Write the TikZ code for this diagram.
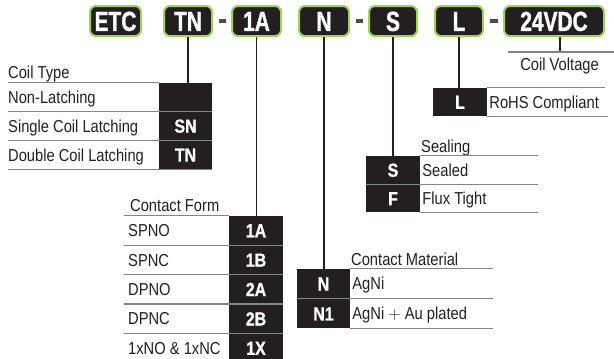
\documentclass[tikz,border=0pt]{standalone}
\usepackage{fontspec}
\setmainfont{Liberation Sans}
\newfontfamily\narrowfont[FakeStretch=0.85]{Liberation Sans}
\newfontfamily\codefont[FakeStretch=0.76,BoldFeatures={FakeBold=1.2}]{Liberation Sans}
\newfontfamily\keyfont[FakeStretch=0.84,BoldFeatures={FakeBold=1}]{Liberation Sans}
\usetikzlibrary{positioning}
\definecolor{ink}{HTML}{231F20}
\definecolor{trim}{HTML}{A3CF5B}
\definecolor{rulegray}{HTML}{858585}
\definecolor{dashgray}{HTML}{4D4D4D}
\tikzset{
  codebox/.style={draw=trim,line width=2pt,fill=ink,rounded corners=6pt,text=white,
    font=\codefont\bfseries\fontsize{27.5}{27.5}\selectfont,minimum height=30pt,
    inner sep=0pt,text height=19.8pt,text depth=0pt},
  keybox/.style={fill=ink,text=white,font=\keyfont\bfseries\fontsize{19}{19}\selectfont,
    minimum width=53pt,minimum height=28.5pt,inner sep=0pt,text height=13.6pt,text depth=0pt},
  rowlabel/.style={anchor=west,inner sep=0pt,text=ink,
    font=\narrowfont\fontsize{17.3}{17.3}\selectfont,text height=12.4pt,text depth=0pt},
  heading/.style={anchor=base west,inner sep=0pt,text=ink,font=\narrowfont\fontsize{17.3}{17.3}\selectfont},
  tablerule/.style={draw=rulegray,line width=1.3pt},
  leader/.style={draw=ink,line width=1.3pt},
  hyphen/.style={draw=dashgray,line width=3.5pt}
}
\begin{document}
\begin{tikzpicture}[x=1pt,y=-1pt]
\useasboundingbox (0,0) rectangle (614,359);
% part number
\node[codebox,minimum width=51pt] (etc) at (115.5,21) {ETC};
\node[codebox,minimum width=48pt] (tn) at (188,21) {TN};
\node[codebox,minimum width=49pt] (form) at (256.5,21) {1A};
\node[codebox,minimum width=50pt] (mat) at (324,21) {N};
\node[codebox,minimum width=48pt] (seal) at (393,21) {S};
\node[codebox,minimum width=48pt] (rohs) at (459,21) {L};
\node[codebox,minimum width=100pt] (volt) at (554,21) {24VDC};
\draw[hyphen] ([xshift=6pt]tn.east) -- ([xshift=-5.5pt]form.west);
\draw[hyphen] ([xshift=6pt]mat.east) -- ([xshift=-5.5pt]seal.west);
\draw[hyphen] ([xshift=6pt]rohs.east) -- ([xshift=-5.5pt]volt.west);

% coil type
\node[keybox] (nl) at (185.5,97) {};
\node[keybox,below=0pt of nl] (sn) {SN};
\node[keybox,below=0pt of sn] (dn) {TN};
\node[heading] (coilhead) at (8,78.5) {Coil Type};
\node[rowlabel] (nltext) at (nl.west -| 8,0) {Non-Latching};
\node[rowlabel] (sntext) at (sn.west -| 8,0) {Single Coil Latching};
\node[rowlabel] (dntext) at (dn.west -| 8,0) {Double Coil Latching};
\draw[tablerule] (nl.north west -| 8,0) -- (nl.north west);
\draw[tablerule] (sn.north west -| 8,0) -- (sn.north east);
\draw[tablerule] (dn.north west -| 8,0) -- (dn.north east);
\draw[tablerule] (dn.south west -| 8,0) -- (dn.south east);
\draw[leader] (tn.south) -- (tn.south |- nl.north);

% contact form
\node[keybox,minimum width=54pt,minimum height=29pt] (fa1) at (256,230.5) {1A};
\node[keybox,minimum width=54pt,minimum height=29pt,below=0pt of fa1] (fb1) {1B};
\node[keybox,minimum width=54pt,minimum height=29pt,below=0pt of fb1] (fa2) {2A};
\node[keybox,minimum width=54pt,minimum height=29pt,below=0pt of fa2] (fb2) {2B};
\node[keybox,minimum width=54pt,minimum height=29pt,below=0pt of fb2] (fx) {1X};
\node[heading] (formhead) at (130,211.5) {Contact Form};
\node[rowlabel] at (fa1.west -| 128,0) {SPNO};
\node[rowlabel] at (fb1.west -| 128,0) {SPNC};
\node[rowlabel] at (fa2.west -| 128,0) {DPNO};
\node[rowlabel] at (fb2.west -| 128,0) {DPNC};
\node[rowlabel] at (fx.west -| 128,0) {1xNO \& 1xNC};
\draw[tablerule] (fa1.north west -| 124,0) -- (fa1.north west);
\draw[tablerule] (fb1.north west -| 124,0) -- (fb1.north east);
\draw[tablerule] (fa2.north west -| 124,0) -- (fa2.north east);
\draw[tablerule] (fb2.north west -| 124,0) -- (fb2.north east);
\draw[tablerule] (fx.north west -| 124,0) -- (fx.north east);
\draw[leader] (form.south) -- (form.south |- fa1.north);

% contact material
\node[keybox,minimum height=29.5pt] (mn) at (323.5,283.75) {N};
\node[keybox,minimum height=29.5pt,below=0pt of mn] (mn1) {N1};
\node[heading] (mathead) at (351,265) {Contact Material};
\node[rowlabel] at (mn.east) [xshift=2pt] {AgNi};
\node[rowlabel] at (mn1.east) [xshift=2pt] {AgNi $+$ Au plated};
\draw[tablerule] (mn.north east) -- (mn.north east -| 493,0);
\draw[tablerule] (mn.south west) -- (mn.south west -| 493,0);
\draw[tablerule] (mn1.south east) -- (mn1.south east -| 493,0);
\draw[leader] (mat.south) -- (mat.south |- mn.north);

% sealing
\node[keybox,minimum width=54pt,minimum height=28pt] (ss) at (393,170) {S};
\node[keybox,minimum width=54pt,minimum height=28pt,below=0pt of ss] (sf) {F};
\node[heading] (sealhead) at (421,152) {Sealing};
\node[rowlabel] at (ss.east) [xshift=2pt] {Sealed};
\node[rowlabel] at (sf.east) [xshift=2pt] {Flux Tight};
\draw[tablerule] (ss.north east) -- (ss.north east -| 538,0);
\draw[tablerule] (ss.south west) -- (ss.south west -| 538,0);
\draw[tablerule] (sf.south east) -- (sf.south east -| 538,0);
\draw[leader] (seal.south) -- (seal.south |- ss.north);

% rohs
\node[keybox,minimum width=54pt,minimum height=28pt] (rl) at (460,102) {L};
\node[rowlabel] at (rl.east) [xshift=2pt] {RoHS Compliant};
\draw[tablerule] (rl.north east) -- (rl.north east -| 605,0);
\draw[tablerule] (rl.south east) -- (rl.south east -| 608,0);
\draw[leader] (rohs.south) -- (rohs.south |- rl.north);

% coil voltage
\coordinate (vtap) at (560,52);
\draw[leader] ([xshift=6pt]volt.south) -- (vtap);
\draw[tablerule] (vtap -| 508,0) -- (vtap -| 614,0);
\node[heading,anchor=base east] (volthead) at (599,70.5) {Coil Voltage};
\end{tikzpicture}
\end{document}
